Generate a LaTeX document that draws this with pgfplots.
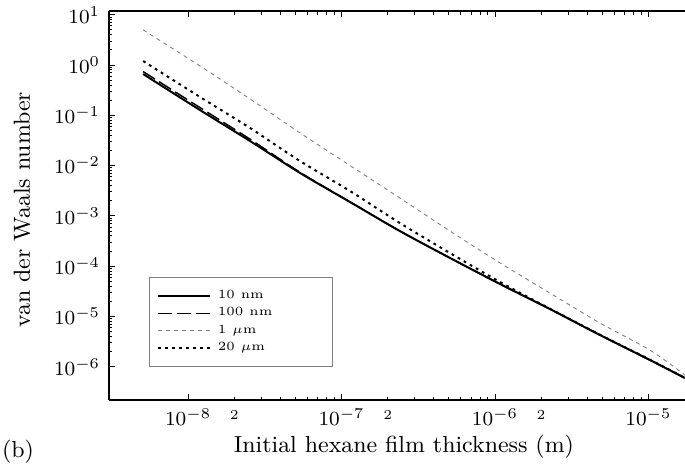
\documentclass[border=0pt]{standalone}
\usepackage{pgfplots}
\pgfplotsset{compat=1.18}
\begin{document}
\begin{tikzpicture}
\useasboundingbox (-43.6pt,-25.6pt) rectangle (230.4pt,160pt);
\begin{axis}[
  at={(0,0)}, anchor=south west,
  xmode=log, ymode=log, scale only axis,
  width=230.4pt, height=155.6pt,
  xmin=3.05e-9, xmax=1.73e-5, ymin=2.19e-7, ymax=11.85,
  axis x line=box, axis y line=left,
  axis line style={-, line width=0.7pt},
  tick align=inside, tick style={black, line width=0.4pt},
  major tick length=2.4pt, minor tick length=1.4pt,
  xtick={1e-8,1e-7,1e-6,1e-5},
  ytick={1e-6,1e-5,1e-4,1e-3,1e-2,1e-1,1,10},
  extra x ticks={2e-8,2e-7,2e-6},
  extra x tick labels={2,2,2},
  extra x tick style={major tick length=1.4pt, tick label style={font=\fontsize{5.5}{6}\selectfont, yshift=-0.5pt}},
  tick label style={font=\fontsize{8}{9}\selectfont},
  xlabel={Initial hexane film thickness (m)},
  ylabel={van der Waals number},
  label style={font=\fontsize{9.3}{11}\selectfont},
  xlabel style={at={(axis description cs:0.512,-0.121)}, anchor=center},
  ylabel style={at={(axis description cs:-0.151,0.49)}, anchor=center},
  clip mode=individual,
  legend cell align=left,
  legend style={at={(rel axis cs:0.0694,0.0848)}, anchor=south west,
    draw=gray, line width=0.4pt, font=\fontsize{5}{6}\selectfont,
    inner xsep=3pt, inner ysep=4pt, row sep=0.6pt, column sep=2pt,
    nodes={inner sep=0.8pt}},
  legend image code/.code={\draw[#1] (0pt,0pt) -- (20.8pt,0pt);},
]
\addplot[black, line width=0.8pt, smooth] coordinates {
(5.09e-9,0.662) (1.197e-8,0.127) (2.535e-8,0.0308) (5.37e-8,7.13e-3)
(1.135e-7,1.89e-3) (2.40e-7,5.0e-4) (5.09e-7,1.46e-4) (1.08e-6,4.42e-5)
(2.28e-6,1.41e-5) (4.83e-6,4.29e-6) (1.02e-5,1.37e-6) (1.73e-5,5.98e-7)};
\addlegendentry{\makebox[42pt][l]{10 nm}}
\addplot[black, line width=0.6pt, dash pattern=on 5.6pt off 2pt, smooth] coordinates {
(5.09e-9,0.74) (1.197e-8,0.142) (2.535e-8,0.0335) (5.37e-8,7.35e-3)
(1.135e-7,1.91e-3) (2.40e-7,5.0e-4) (5.09e-7,1.46e-4) (1.08e-6,4.42e-5)
(2.28e-6,1.41e-5) (4.83e-6,4.29e-6) (1.02e-5,1.37e-6) (1.73e-5,5.98e-7)};
\addlegendentry{\makebox[42pt][l]{100 nm}}
\addplot[gray, line width=0.35pt, dash pattern=on 1.6pt off 1.6pt, smooth] coordinates {
(5.09e-9,5.0) (1.197e-8,0.955) (2.535e-8,0.211) (5.37e-8,0.0445)
(1.135e-7,0.01005) (2.40e-7,2.27e-3) (5.09e-7,5.01e-4) (1.08e-6,1.16e-4)
(2.28e-6,2.93e-5) (4.83e-6,7.43e-6) (1.02e-5,2.16e-6) (1.73e-5,6.87e-7)};
\addlegendentry{\makebox[42pt][l]{1 $\mu$m}}
\addplot[black, line width=0.8pt, dash pattern=on 1.1pt off 1.7pt, smooth] coordinates {
(5.09e-9,1.20) (1.197e-8,0.231) (2.535e-8,0.0559) (5.37e-8,0.0123)
(1.135e-7,3.13e-3) (2.40e-7,7.22e-4) (5.09e-7,1.83e-4) (1.08e-6,4.85e-5)
(2.28e-6,1.43e-5) (4.83e-6,4.35e-6) (1.02e-5,1.39e-6) (1.73e-5,6.05e-7)};
\addlegendentry{\makebox[42pt][l]{20 $\mu$m}}
\node[font=\fontsize{9.3}{11}\selectfont] at (axis description cs:-0.158,-0.134) {(b)};
\end{axis}
\end{tikzpicture}
\end{document}
